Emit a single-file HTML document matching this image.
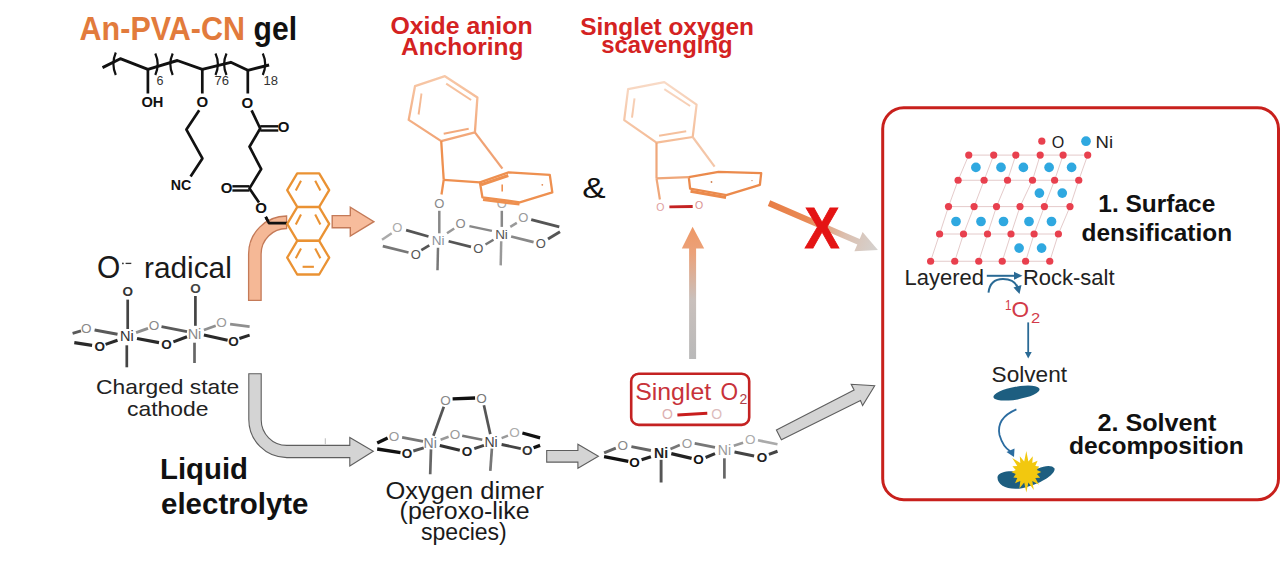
<!DOCTYPE html><html><head><meta charset="utf-8"><style>html,body{margin:0;padding:0;background:#fff;overflow:hidden;}svg{display:block;}text{font-family:"Liberation Sans", sans-serif;}</style></head><body>
<svg width="1280" height="561" viewBox="0 0 1280 561">
<defs><linearGradient id="gUp" x1="0" y1="1" x2="0" y2="0"><stop offset="0" stop-color="#b9b9b9"/><stop offset="0.45" stop-color="#c9c0bc"/><stop offset="0.8" stop-color="#eba27a"/><stop offset="1" stop-color="#ee9866"/></linearGradient><linearGradient id="gDiag" x1="768" y1="203" x2="878" y2="250" gradientUnits="userSpaceOnUse"><stop offset="0" stop-color="#e87d45"/><stop offset="0.35" stop-color="#e98a55"/><stop offset="0.7" stop-color="#dcc0b0"/><stop offset="1" stop-color="#d4d2d0"/></linearGradient><linearGradient id="gR1" x1="0" y1="76" x2="0" y2="145" gradientUnits="userSpaceOnUse"><stop offset="0" stop-color="#F7C8A8"/><stop offset="1" stop-color="#F1A272"/></linearGradient><linearGradient id="gR2" x1="0" y1="82" x2="0" y2="145" gradientUnits="userSpaceOnUse"><stop offset="0" stop-color="#F8DAC6"/><stop offset="1" stop-color="#F4BA94"/></linearGradient></defs>
<rect width="1280" height="561" fill="#fff"/>
<text x="79.6" y="40" font-size="32.5" font-weight="700" fill="#E27B3C" text-anchor="start" textLength="165.5" lengthAdjust="spacingAndGlyphs">An-PVA-CN</text>
<text x="253.6" y="40.2" font-size="32.5" font-weight="700" fill="#111" text-anchor="start" textLength="43.5" lengthAdjust="spacingAndGlyphs">gel</text>
<text x="390.5" y="33.8" font-size="24.5" font-weight="700" fill="#D42222" text-anchor="start" textLength="142.1" lengthAdjust="spacingAndGlyphs">Oxide anion</text>
<text x="401.1" y="54.9" font-size="24.5" font-weight="700" fill="#D42222" text-anchor="start" textLength="122.3" lengthAdjust="spacingAndGlyphs">Anchoring</text>
<text x="580.2" y="34.7" font-size="24.5" font-weight="700" fill="#D42222" text-anchor="start" textLength="173.8" lengthAdjust="spacingAndGlyphs">Singlet oxygen</text>
<text x="601.25" y="52.7" font-size="24.5" font-weight="700" fill="#D42222" text-anchor="start" textLength="131.3" lengthAdjust="spacingAndGlyphs">scavenging</text>
<polyline points="102.5,67.6 120.3,58.7 147.9,69.4 177.3,60.5 202.3,69.4 230.8,62.3 247.8,70.3 269.1,65" fill="none" stroke="#111" stroke-width="2.9" stroke-linejoin="round"/>
<path d="M115.8,52.5 Q111.0,63.75 115.8,75" fill="none" stroke="#111" stroke-width="2.2"/>
<path d="M155.3,53.5 Q160.10000000000002,64.25 155.3,75" fill="none" stroke="#111" stroke-width="2.2"/>
<path d="M172.7,53.5 Q167.89999999999998,64.25 172.7,75" fill="none" stroke="#111" stroke-width="2.2"/>
<path d="M215.5,53.5 Q220.3,64.25 215.5,75" fill="none" stroke="#111" stroke-width="2.2"/>
<path d="M226.5,53.5 Q221.7,64.25 226.5,75" fill="none" stroke="#111" stroke-width="2.2"/>
<path d="M262.8,53.5 Q267.6,64.25 262.8,75" fill="none" stroke="#111" stroke-width="2.2"/>
<text x="156.5" y="84.5" font-size="12.5" font-weight="400" fill="#333" text-anchor="start">6</text>
<text x="214.5" y="84.5" font-size="12.5" font-weight="400" fill="#333" text-anchor="start" textLength="14.5" lengthAdjust="spacingAndGlyphs">76</text>
<text x="263.5" y="84.5" font-size="12.5" font-weight="400" fill="#333" text-anchor="start" textLength="14.5" lengthAdjust="spacingAndGlyphs">18</text>
<line x1="147.9" y1="69.4" x2="147.9" y2="93.5" stroke="#111" stroke-width="2.7" stroke-linecap="butt"/>
<text x="152.4" y="106.8" font-size="15" font-weight="700" fill="#111" text-anchor="middle" textLength="22" lengthAdjust="spacingAndGlyphs">OH</text>
<line x1="202.3" y1="69.4" x2="202.3" y2="93.5" stroke="#111" stroke-width="2.7" stroke-linecap="butt"/>
<text x="202.4" y="106.8" font-size="15" font-weight="700" fill="#111" text-anchor="middle">O</text>
<line x1="247.8" y1="70.3" x2="247.8" y2="93.5" stroke="#111" stroke-width="2.7" stroke-linecap="butt"/>
<text x="247.3" y="107.5" font-size="15" font-weight="700" fill="#111" text-anchor="middle">O</text>
<polyline points="199.2,110.3 186.4,129.6 202.4,158.4 190.6,176.5" fill="none" stroke="#111" stroke-width="2.7" stroke-linejoin="round"/>
<text x="181" y="189.5" font-size="15" font-weight="700" fill="#111" text-anchor="middle" textLength="20.5" lengthAdjust="spacingAndGlyphs">NC</text>
<polyline points="251.6,110.3 260.2,128.5 249.5,146.7 261.2,169.1 249.5,188.4 259,202.5" fill="none" stroke="#111" stroke-width="2.7" stroke-linejoin="round"/>
<line x1="260.2" y1="126.3" x2="278.3" y2="126.3" stroke="#111" stroke-width="2.4" stroke-linecap="butt"/>
<line x1="260.2" y1="130.5" x2="278.3" y2="130.5" stroke="#111" stroke-width="2.4" stroke-linecap="butt"/>
<text x="283.7" y="132.3" font-size="15" font-weight="700" fill="#111" text-anchor="middle">O</text>
<line x1="232.4" y1="186.3" x2="249.5" y2="186.3" stroke="#111" stroke-width="2.4" stroke-linecap="butt"/>
<line x1="232.4" y1="190.5" x2="249.5" y2="190.5" stroke="#111" stroke-width="2.4" stroke-linecap="butt"/>
<text x="226.5" y="193.3" font-size="15" font-weight="700" fill="#111" text-anchor="middle">O</text>
<text x="261.2" y="212.5" font-size="15" font-weight="700" fill="#111" text-anchor="middle">O</text>
<polyline points="265.7,216.8 269,223.2 287,223.2" fill="none" stroke="#111" stroke-width="2.7" stroke-linejoin="round"/>
<path d="M248.6,300.3 L248.6,254 A38,38 0 0 1 286.6,216 L286.6,228.5 A25.5,25.5 0 0 0 261.1,254 L261.1,300.3 Z" fill="#F5B896" stroke="#C47A58" stroke-width="1.3"/>
<polyline points="265.7,216.8 269,223.2 287,223.2" fill="none" stroke="#111" stroke-width="2.7" stroke-linejoin="round"/>
<polygon points="332.2,215.6 350.3,215.6 350.3,207.2 373.9,221.7 350.3,236.1 350.3,227.7 332.2,227.7" fill="#F7BC9C" stroke="#C47A58" stroke-width="1.4" stroke-linejoin="miter"/>
<polygon points="297.2,173.29999999999998 319.2,173.29999999999998 329.2,190.1 319.2,206.9 297.2,206.9 287.2,190.1" fill="none" stroke="#EA9233" stroke-width="2.3" stroke-linejoin="round"/>
<line x1="295.8" y1="190.6" x2="301.0" y2="180.79999999999998" stroke="#EA9233" stroke-width="2.1" stroke-linecap="butt"/>
<line x1="315.2" y1="180.79999999999998" x2="320.4" y2="190.6" stroke="#EA9233" stroke-width="2.1" stroke-linecap="butt"/>
<polygon points="297.2,207.1 319.2,207.1 329.2,223.9 319.2,240.70000000000002 297.2,240.70000000000002 287.2,223.9" fill="none" stroke="#EA9233" stroke-width="2.3" stroke-linejoin="round"/>
<line x1="295.8" y1="224.4" x2="301.0" y2="214.6" stroke="#EA9233" stroke-width="2.1" stroke-linecap="butt"/>
<line x1="315.2" y1="214.6" x2="320.4" y2="224.4" stroke="#EA9233" stroke-width="2.1" stroke-linecap="butt"/>
<polygon points="297.2,240.89999999999998 319.2,240.89999999999998 329.2,257.7 319.2,274.5 297.2,274.5 287.2,257.7" fill="none" stroke="#EA9233" stroke-width="2.3" stroke-linejoin="round"/>
<line x1="295.8" y1="258.2" x2="301.0" y2="248.39999999999998" stroke="#EA9233" stroke-width="2.1" stroke-linecap="butt"/>
<line x1="315.2" y1="248.39999999999998" x2="320.4" y2="258.2" stroke="#EA9233" stroke-width="2.1" stroke-linecap="butt"/>
<line x1="302.6" y1="266.8" x2="313.9" y2="266.8" stroke="#EA9233" stroke-width="2.1" stroke-linecap="butt"/>
<text x="96.9" y="278.4" font-size="30.5" font-weight="400" fill="#1a1a1a" text-anchor="start" textLength="23.3" lengthAdjust="spacingAndGlyphs">O</text>
<circle cx="122.9" cy="263.4" r="0.9" fill="#333"/>
<line x1="125.6" y1="263.4" x2="131.3" y2="263.4" stroke="#333" stroke-width="1.3" stroke-linecap="butt"/>
<text x="144.0" y="278.2" font-size="29.5" font-weight="400" fill="#1a1a1a" text-anchor="start" textLength="87.8" lengthAdjust="spacingAndGlyphs">radical</text>
<text x="96.1" y="394.4" font-size="21" font-weight="400" fill="#222" text-anchor="start" textLength="143.2" lengthAdjust="spacingAndGlyphs">Charged state</text>
<text x="127.0" y="415.6" font-size="21" font-weight="400" fill="#222" text-anchor="start" textLength="81.5" lengthAdjust="spacingAndGlyphs">cathode</text>
<text x="160.0" y="478.5" font-size="30" font-weight="700" fill="#111" text-anchor="start" textLength="88" lengthAdjust="spacingAndGlyphs">Liquid</text>
<text x="161.0" y="513.8" font-size="30" font-weight="700" fill="#111" text-anchor="start" textLength="147.5" lengthAdjust="spacingAndGlyphs">electrolyte</text>
<line x1="72.6" y1="333.4" x2="81" y2="330.9" stroke="#5a5a5a" stroke-width="2.7" stroke-linecap="butt"/>
<line x1="74.3" y1="342.7" x2="92.1" y2="345.3" stroke="#2a2a2a" stroke-width="3.3" stroke-linecap="butt"/>
<line x1="94.6" y1="330" x2="117.5" y2="334.3" stroke="#5a5a5a" stroke-width="3.1" stroke-linecap="butt"/>
<line x1="105.6" y1="344.4" x2="117.5" y2="340.2" stroke="#2a2a2a" stroke-width="3.1" stroke-linecap="butt"/>
<line x1="136.1" y1="332.6" x2="148" y2="328.3" stroke="#8f8f8f" stroke-width="2.9" stroke-linecap="butt"/>
<line x1="137" y1="338.5" x2="159" y2="342.7" stroke="#2a2a2a" stroke-width="3.3" stroke-linecap="butt"/>
<line x1="161.5" y1="326.7" x2="187" y2="331.7" stroke="#5a5a5a" stroke-width="2.9" stroke-linecap="butt"/>
<line x1="173.4" y1="341.9" x2="187" y2="336.8" stroke="#2a2a2a" stroke-width="3.1" stroke-linecap="butt"/>
<line x1="203.9" y1="330" x2="215.7" y2="325.8" stroke="#8f8f8f" stroke-width="2.7" stroke-linecap="butt"/>
<line x1="203.9" y1="335.1" x2="227.6" y2="340.2" stroke="#2a2a2a" stroke-width="3.1" stroke-linecap="butt"/>
<line x1="230.1" y1="324.1" x2="249.6" y2="326.7" stroke="#8f8f8f" stroke-width="2.7" stroke-linecap="butt"/>
<line x1="239.4" y1="338.5" x2="249.6" y2="335.1" stroke="#2a2a2a" stroke-width="2.9" stroke-linecap="butt"/>
<line x1="127.7" y1="299.6" x2="127.7" y2="329" stroke="#444" stroke-width="2.7" stroke-linecap="butt"/>
<line x1="126.8" y1="345.3" x2="126.8" y2="367.3" stroke="#444" stroke-width="2.7" stroke-linecap="butt"/>
<line x1="195.4" y1="296" x2="195.4" y2="325.8" stroke="#444" stroke-width="2.7" stroke-linecap="butt"/>
<line x1="194.5" y1="342.7" x2="194.5" y2="363" stroke="#666" stroke-width="2.7" stroke-linecap="butt"/>
<text x="126.8" y="341.2" font-size="14.5" font-weight="400" fill="#333" text-anchor="middle">Ni</text>
<text x="194.5" y="338.6" font-size="14.5" font-weight="400" fill="#8a8a8a" text-anchor="middle">Ni</text>
<text x="127.7" y="295.9" font-size="13.5" font-weight="700" fill="#333" text-anchor="middle">O</text>
<text x="195.4" y="292.6" font-size="13.5" font-weight="700" fill="#444" text-anchor="middle">O</text>
<text x="86.2" y="333.2" font-size="13.5" font-weight="400" fill="#888" text-anchor="middle">O</text>
<text x="99.7" y="351.0" font-size="13.5" font-weight="700" fill="#222" text-anchor="middle">O</text>
<text x="153.9" y="329.9" font-size="13.5" font-weight="400" fill="#888" text-anchor="middle">O</text>
<text x="166.6" y="348.5" font-size="13.5" font-weight="700" fill="#222" text-anchor="middle">O</text>
<text x="221.6" y="327.3" font-size="13.5" font-weight="400" fill="#999" text-anchor="middle">O</text>
<text x="233.5" y="345.9" font-size="13.5" font-weight="700" fill="#222" text-anchor="middle">O</text>
<line x1="382" y1="239.7" x2="391.7" y2="233.3" stroke="#aaa" stroke-width="2.5" stroke-linecap="butt"/>
<line x1="382.8" y1="246.1" x2="408.5" y2="252.5" stroke="#777" stroke-width="2.7" stroke-linecap="butt"/>
<line x1="406.1" y1="230.1" x2="428.5" y2="236.5" stroke="#555" stroke-width="2.7" stroke-linecap="butt"/>
<line x1="421.3" y1="250.1" x2="429.3" y2="245.3" stroke="#555" stroke-width="2.7" stroke-linecap="butt"/>
<line x1="447" y1="233.3" x2="454.2" y2="228.5" stroke="#999" stroke-width="2.5" stroke-linecap="butt"/>
<line x1="448.6" y1="241.3" x2="471" y2="246.9" stroke="#555" stroke-width="2.7" stroke-linecap="butt"/>
<line x1="469.4" y1="226.1" x2="491.9" y2="230.9" stroke="#888" stroke-width="2.5" stroke-linecap="butt"/>
<line x1="485.5" y1="244.5" x2="493.5" y2="239.7" stroke="#777" stroke-width="2.5" stroke-linecap="butt"/>
<line x1="510.3" y1="226.9" x2="516.8" y2="222.9" stroke="#999" stroke-width="2.5" stroke-linecap="butt"/>
<line x1="511.1" y1="236.5" x2="533.6" y2="242.1" stroke="#888" stroke-width="2.7" stroke-linecap="butt"/>
<line x1="531.2" y1="219.7" x2="559.3" y2="226.9" stroke="#555" stroke-width="2.9" stroke-linecap="butt"/>
<line x1="548" y1="238.9" x2="560" y2="231.7" stroke="#555" stroke-width="2.9" stroke-linecap="butt"/>
<line x1="439.3" y1="210.8" x2="439.3" y2="233.3" stroke="#888" stroke-width="2.5" stroke-linecap="butt"/>
<line x1="438" y1="247.7" x2="437.5" y2="270.2" stroke="#777" stroke-width="2.5" stroke-linecap="butt"/>
<line x1="501.8" y1="210.8" x2="501.8" y2="226.9" stroke="#888" stroke-width="2.5" stroke-linecap="butt"/>
<line x1="501.2" y1="241.3" x2="500.7" y2="265.4" stroke="#999" stroke-width="2.5" stroke-linecap="butt"/>
<text x="438.2" y="244.6" font-size="13.5" font-weight="400" fill="#8a929c" text-anchor="middle">Ni</text>
<text x="501.5" y="238.5" font-size="13.5" font-weight="400" fill="#555" text-anchor="middle">Ni</text>
<text x="439.3" y="207.5" font-size="13" font-weight="400" fill="#888" text-anchor="middle">O</text>
<text x="501.8" y="208.3" font-size="13" font-weight="400" fill="#aaa" text-anchor="middle">O</text>
<text x="397.3" y="232.4" font-size="13" font-weight="400" fill="#aaa" text-anchor="middle">O</text>
<text x="415.7" y="258.9" font-size="13" font-weight="400" fill="#555" text-anchor="middle">O</text>
<text x="460.6" y="228.4" font-size="13" font-weight="400" fill="#888" text-anchor="middle">O</text>
<text x="478.3" y="253.2" font-size="13" font-weight="400" fill="#555" text-anchor="middle">O</text>
<text x="523.2" y="222.3" font-size="13" font-weight="400" fill="#999" text-anchor="middle">O</text>
<text x="540.8" y="248.4" font-size="13" font-weight="400" fill="#555" text-anchor="middle">O</text>
<line x1="452.6" y1="398.8" x2="475.1" y2="398" stroke="#111" stroke-width="3.3" stroke-linecap="butt"/>
<line x1="433.4" y1="435.7" x2="443.8" y2="406.8" stroke="#555" stroke-width="2.7" stroke-linecap="butt"/>
<line x1="490.3" y1="434.1" x2="483.9" y2="405.2" stroke="#555" stroke-width="2.7" stroke-linecap="butt"/>
<line x1="431" y1="449.4" x2="430.2" y2="474.2" stroke="#666" stroke-width="2.7" stroke-linecap="butt"/>
<line x1="491.9" y1="448.6" x2="490.3" y2="470.9" stroke="#777" stroke-width="2.7" stroke-linecap="butt"/>
<line x1="377.2" y1="443" x2="387.6" y2="438.1" stroke="#111" stroke-width="3.3" stroke-linecap="butt"/>
<line x1="377.2" y1="449" x2="400.5" y2="452.6" stroke="#111" stroke-width="3.3" stroke-linecap="butt"/>
<line x1="402.1" y1="437.3" x2="423" y2="441.3" stroke="#777" stroke-width="2.7" stroke-linecap="butt"/>
<line x1="413.3" y1="451" x2="423.7" y2="447.8" stroke="#555" stroke-width="2.9" stroke-linecap="butt"/>
<line x1="440.6" y1="439.7" x2="448.6" y2="436.8" stroke="#999" stroke-width="2.5" stroke-linecap="butt"/>
<line x1="439.8" y1="445.4" x2="459.8" y2="450.2" stroke="#333" stroke-width="3.1" stroke-linecap="butt"/>
<line x1="462.2" y1="435.7" x2="482.3" y2="439.7" stroke="#777" stroke-width="2.7" stroke-linecap="butt"/>
<line x1="474.3" y1="448.6" x2="483.9" y2="445.4" stroke="#444" stroke-width="2.9" stroke-linecap="butt"/>
<line x1="501.6" y1="438.1" x2="508" y2="435.7" stroke="#999" stroke-width="2.5" stroke-linecap="butt"/>
<line x1="501.6" y1="444.5" x2="520.8" y2="448.6" stroke="#444" stroke-width="2.9" stroke-linecap="butt"/>
<line x1="522.4" y1="433" x2="540.1" y2="437.8" stroke="#111" stroke-width="3.3" stroke-linecap="butt"/>
<line x1="533.6" y1="447.8" x2="540.1" y2="445.4" stroke="#111" stroke-width="3.3" stroke-linecap="butt"/>
<text x="430.2" y="447.9" font-size="14" font-weight="400" fill="#7a7f88" text-anchor="middle">Ni</text>
<text x="491.1" y="446.7" font-size="14" font-weight="400" fill="#444" text-anchor="middle">Ni</text>
<text x="445.4" y="404.5" font-size="13.5" font-weight="400" fill="#888" text-anchor="middle">O</text>
<text x="481.5" y="402.9" font-size="13.5" font-weight="400" fill="#777" text-anchor="middle">O</text>
<text x="394.1" y="440.6" font-size="13.5" font-weight="400" fill="#999" text-anchor="middle">O</text>
<text x="406.9" y="458.3" font-size="13.5" font-weight="700" fill="#222" text-anchor="middle">O</text>
<text x="455" y="439.0" font-size="13.5" font-weight="400" fill="#999" text-anchor="middle">O</text>
<text x="467.1" y="455.9" font-size="13.5" font-weight="700" fill="#222" text-anchor="middle">O</text>
<text x="514.4" y="436.9" font-size="13.5" font-weight="400" fill="#aaa" text-anchor="middle">O</text>
<text x="527.2" y="455.1" font-size="13.5" font-weight="700" fill="#333" text-anchor="middle">O</text>
<line x1="604.1" y1="452.8" x2="615.8" y2="448.1" stroke="#666" stroke-width="2.9" stroke-linecap="butt"/>
<line x1="604.1" y1="456.7" x2="628.3" y2="461.4" stroke="#111" stroke-width="3.3" stroke-linecap="butt"/>
<line x1="631.4" y1="446.6" x2="650.9" y2="450.5" stroke="#666" stroke-width="2.9" stroke-linecap="butt"/>
<line x1="641.6" y1="459.8" x2="650.9" y2="456.7" stroke="#222" stroke-width="3.3" stroke-linecap="butt"/>
<line x1="670.5" y1="448.9" x2="679.8" y2="445" stroke="#777" stroke-width="2.7" stroke-linecap="butt"/>
<line x1="671.3" y1="453.6" x2="691.6" y2="458.3" stroke="#222" stroke-width="3.3" stroke-linecap="butt"/>
<line x1="694.7" y1="443.4" x2="715" y2="447.3" stroke="#777" stroke-width="2.7" stroke-linecap="butt"/>
<line x1="705.6" y1="457.5" x2="715" y2="453.6" stroke="#333" stroke-width="3.1" stroke-linecap="butt"/>
<line x1="733.8" y1="445.8" x2="743.1" y2="442.7" stroke="#999" stroke-width="2.5" stroke-linecap="butt"/>
<line x1="734.5" y1="452" x2="754.1" y2="455.9" stroke="#444" stroke-width="3.1" stroke-linecap="butt"/>
<line x1="758" y1="440.3" x2="777.5" y2="444.2" stroke="#aaa" stroke-width="2.7" stroke-linecap="butt"/>
<line x1="768.9" y1="454.4" x2="777.5" y2="451.3" stroke="#444" stroke-width="3.1" stroke-linecap="butt"/>
<line x1="661.1" y1="459.8" x2="661.1" y2="482.5" stroke="#555" stroke-width="2.9" stroke-linecap="butt"/>
<line x1="724.4" y1="458.3" x2="724.4" y2="478.6" stroke="#666" stroke-width="2.7" stroke-linecap="butt"/>
<text x="661.1" y="457.8" font-size="14" font-weight="700" fill="#222" text-anchor="middle">Ni</text>
<text x="724.4" y="454.7" font-size="14" font-weight="400" fill="#999" text-anchor="middle">Ni</text>
<text x="622.8" y="449.9" font-size="13.5" font-weight="400" fill="#888" text-anchor="middle">O</text>
<text x="634.5" y="467.1" font-size="13.5" font-weight="700" fill="#111" text-anchor="middle">O</text>
<text x="686.9" y="447.6" font-size="13.5" font-weight="400" fill="#999" text-anchor="middle">O</text>
<text x="698.6" y="464.0" font-size="13.5" font-weight="700" fill="#111" text-anchor="middle">O</text>
<text x="750.2" y="444.4" font-size="13.5" font-weight="400" fill="#aaa" text-anchor="middle">O</text>
<text x="761.9" y="461.6" font-size="13.5" font-weight="700" fill="#222" text-anchor="middle">O</text>
<text x="385.5" y="498.8" font-size="23" font-weight="400" fill="#1a1a1a" text-anchor="start" textLength="158.5" lengthAdjust="spacingAndGlyphs">Oxygen dimer</text>
<text x="399.6" y="519.1" font-size="23" font-weight="400" fill="#1a1a1a" text-anchor="start" textLength="130" lengthAdjust="spacingAndGlyphs">(peroxo-like</text>
<text x="421.0" y="539.8" font-size="23" font-weight="400" fill="#1a1a1a" text-anchor="start" textLength="85.8" lengthAdjust="spacingAndGlyphs">species)</text>
<path d="M248.8,373.8 L248.8,419.6 A38,38 0 0 0 286.8,457.6 L349.8,457.6 L349.8,466 L373.3,451.3 L349.8,437.5 L349.8,445.4 L286.8,445.4 A25.6,25.6 0 0 1 261.2,419.6 L261.2,373.8 Z" fill="#D4D4D4" stroke="#5e5e5e" stroke-width="1.1" stroke-linejoin="miter"/>
<line x1="325.3" y1="438.3" x2="325.3" y2="444.2" stroke="#aaa" stroke-width="0.8" stroke-linecap="butt"/>
<polygon points="546.7,450.5 577.9,450.5 577.9,444.3 598.4,456.3 577.9,468.3 577.9,462.1 546.7,462.1" fill="#D4D4D4" stroke="#5e5e5e" stroke-width="1.1"/>
<polygon points="776.4,429.9 854.1,390 851.2,384.3 874.7,385.7 862.6,405.6 860.5,400.6 781.4,439.8" fill="#D4D4D4" stroke="#5e5e5e" stroke-width="1.1"/>
<polygon points="689.1,359.1 689.1,248.5 681.8,248.5 692.6,226.7 704.2,248.5 696.1,248.5 696.1,359.1" fill="url(#gUp)"/>
<polygon points="767.8,205.9 857.3,244.5 854.4,251.3 877.9,249.9 862.6,232.1 859.7,238.9 770.2,200.3" fill="url(#gDiag)"/>
<text x="804.5" y="247.6" font-size="56.5" font-weight="700" fill="#E41414" text-anchor="start" textLength="35" lengthAdjust="spacingAndGlyphs" stroke="#E41414" stroke-width="0.8">X</text>
<text x="582.2" y="198.3" font-size="29.5" font-weight="400" fill="#111" text-anchor="start" textLength="23.4" lengthAdjust="spacingAndGlyphs">&amp;</text>
<polygon points="444.9,76.2 477.4,97.5 474.9,132.4 441.2,141.1 408.7,119.9 415,86.2" fill="none" stroke="url(#gR1)" stroke-width="2.3" stroke-linejoin="round"/>
<line x1="446.2" y1="83.7" x2="471.1" y2="100" stroke="url(#gR1)" stroke-width="2" stroke-linecap="butt"/>
<line x1="421.5" y1="93.5" x2="418.6" y2="114.5" stroke="url(#gR1)" stroke-width="1.9" stroke-linecap="butt"/>
<line x1="443.7" y1="133.7" x2="468.7" y2="128.7" stroke="url(#gR1)" stroke-width="2" stroke-linecap="butt"/>
<line x1="441.2" y1="141.1" x2="443.7" y2="179.8" stroke="#EE9050" stroke-width="2.3" stroke-linecap="butt"/>
<line x1="474.9" y1="132.4" x2="502.4" y2="168.6" stroke="#F0A274" stroke-width="2.3" stroke-linecap="butt"/>
<polygon points="479.9,182.3 508.6,172.3 549.8,174.8 552.3,192.3 519.8,202.3 482.4,197.3" fill="none" stroke="#EE9050" stroke-width="2.3" stroke-linejoin="round"/>
<line x1="481" y1="184.8" x2="508.3" y2="175.6" stroke="#EE9050" stroke-width="3.2" stroke-linecap="butt"/>
<line x1="483" y1="199.6" x2="519.5" y2="204.3" stroke="#EE9050" stroke-width="2.6" stroke-linecap="butt"/>
<line x1="443.7" y1="179.8" x2="479.9" y2="182.3" stroke="#EE9050" stroke-width="2.3" stroke-linecap="butt"/>
<line x1="443.7" y1="179.8" x2="441.5" y2="194.5" stroke="#EE9050" stroke-width="2.3" stroke-linecap="butt"/>
<line x1="502.2" y1="184.5" x2="502.2" y2="191.5" stroke="#EE9050" stroke-width="1.6" stroke-linecap="butt"/>
<circle cx="542.3" cy="184.8" r="0.9" fill="#E08850"/>
<polygon points="664.3,82.2 696.6,104.7 692.7,137 656.5,142.7 624.2,120.2 628.1,89.2" fill="none" stroke="url(#gR2)" stroke-width="2.2" stroke-linejoin="round"/>
<line x1="664.3" y1="89.2" x2="690.1" y2="106" stroke="url(#gR2)" stroke-width="2" stroke-linecap="butt"/>
<line x1="634.5" y1="98.3" x2="632" y2="117.6" stroke="url(#gR2)" stroke-width="2" stroke-linecap="butt"/>
<line x1="659.1" y1="135.7" x2="686.2" y2="131.3" stroke="url(#gR2)" stroke-width="2" stroke-linecap="butt"/>
<line x1="656.5" y1="142.7" x2="656.5" y2="178.4" stroke="#EFA77A" stroke-width="2.2" stroke-linecap="butt"/>
<line x1="692.7" y1="137" x2="714.6" y2="166.7" stroke="#F4C6A8" stroke-width="2.2" stroke-linecap="butt"/>
<polygon points="688.8,177.1 718.5,171.9 761.2,173.2 759.9,184.8 726.3,195.2 690.1,188.7" fill="none" stroke="#EB8A4C" stroke-width="2.3" stroke-linejoin="round"/>
<line x1="690.5" y1="191.3" x2="726" y2="197.6" stroke="#EB8A4C" stroke-width="3" stroke-linecap="butt"/>
<line x1="656.5" y1="178.4" x2="688.8" y2="177.1" stroke="#EFA77A" stroke-width="2.2" stroke-linecap="butt"/>
<line x1="656.5" y1="178.4" x2="659.9" y2="199.5" stroke="#EFA77A" stroke-width="2.2" stroke-linecap="butt"/>
<circle cx="711.5" cy="182" r="0.9" fill="#D08050"/><circle cx="752" cy="180.6" r="0.7" fill="#D08050"/>
<text x="660.4" y="210.6" font-size="10.5" font-weight="400" fill="#E0A0A0" text-anchor="middle">O</text>
<text x="699.1" y="209.3" font-size="10.5" font-weight="400" fill="#D89090" text-anchor="middle">O</text>
<line x1="669.4" y1="206.9" x2="692.7" y2="206.5" stroke="#C42222" stroke-width="2.8" stroke-linecap="butt"/>
<rect x="631.2" y="373.7" width="118" height="51.2" rx="7.5" fill="#fff" stroke="#C42222" stroke-width="2.6"/>
<text x="635.2" y="400" font-size="24" font-weight="400" fill="#C8323A" text-anchor="start" textLength="76" lengthAdjust="spacingAndGlyphs">Singlet</text>
<text x="720.6" y="400" font-size="24" font-weight="400" fill="#C8323A" text-anchor="start" textLength="17.6" lengthAdjust="spacingAndGlyphs">O</text>
<text x="739.6" y="404.3" font-size="15" font-weight="400" fill="#B04048" text-anchor="start" textLength="7.8" lengthAdjust="spacingAndGlyphs">2</text>
<text x="667.4" y="419.3" font-size="14" font-weight="400" fill="#DDB0B0" text-anchor="middle">O</text>
<text x="716.7" y="418.7" font-size="14" font-weight="400" fill="#DDBCBC" text-anchor="middle">O</text>
<line x1="677.4" y1="415" x2="707.3" y2="413.2" stroke="#C81E1E" stroke-width="3" stroke-linecap="butt"/>
<rect x="882.7" y="107.8" width="395.8" height="391.9" rx="21" fill="none" stroke="#C8201C" stroke-width="3"/>
<line x1="968.75" y1="155.1" x2="1087.7" y2="155.1" stroke="#DDBDBD" stroke-width="0.8" stroke-linecap="butt"/>
<line x1="958.1" y1="180.25" x2="1078.75" y2="180.25" stroke="#DDBDBD" stroke-width="0.8" stroke-linecap="butt"/>
<line x1="948.5" y1="206.6" x2="1070" y2="206.6" stroke="#DDBDBD" stroke-width="0.8" stroke-linecap="butt"/>
<line x1="939.6" y1="234.0" x2="1058.4" y2="234.0" stroke="#DDBDBD" stroke-width="0.8" stroke-linecap="butt"/>
<line x1="930.6" y1="261.25" x2="1049.75" y2="261.25" stroke="#DDBDBD" stroke-width="0.8" stroke-linecap="butt"/>
<polyline points="968.75,155.1 958.1,180.25 948.5,206.6 939.6,234.0 930.6,261.25" fill="none" stroke="#DDBDBD" stroke-width="0.8" stroke-linejoin="round"/>
<polyline points="993.7,155.1 984.1,180.25 974.1,206.6 963.5,234.0 954.75,261.25" fill="none" stroke="#DDBDBD" stroke-width="0.8" stroke-linejoin="round"/>
<polyline points="1015.8,155.1 1007.5,180.25 996.5,206.6 987.5,234.0 978.75,261.25" fill="none" stroke="#DDBDBD" stroke-width="0.8" stroke-linejoin="round"/>
<polyline points="1040.2,155.1 1032.5,180.25 1020,206.6 1011,234.0 1002.25,261.25" fill="none" stroke="#DDBDBD" stroke-width="0.8" stroke-linejoin="round"/>
<polyline points="1063.1,155.1 1054.6,180.25 1044.4,206.6 1034.1,234.0 1025.6,261.25" fill="none" stroke="#DDBDBD" stroke-width="0.8" stroke-linejoin="round"/>
<polyline points="1087.7,155.1 1078.75,180.25 1070,206.6 1058.4,234.0 1049.75,261.25" fill="none" stroke="#DDBDBD" stroke-width="0.8" stroke-linejoin="round"/>
<circle cx="968.75" cy="155.1" r="3.6" fill="#E8404E"/>
<circle cx="993.7" cy="155.1" r="3.6" fill="#E8404E"/>
<circle cx="1015.8" cy="155.1" r="3.6" fill="#E8404E"/>
<circle cx="1040.2" cy="155.1" r="3.6" fill="#E8404E"/>
<circle cx="1063.1" cy="155.1" r="3.6" fill="#E8404E"/>
<circle cx="1087.7" cy="155.1" r="3.6" fill="#E8404E"/>
<circle cx="958.1" cy="180.25" r="3.6" fill="#E8404E"/>
<circle cx="984.1" cy="180.25" r="3.6" fill="#E8404E"/>
<circle cx="1007.5" cy="180.25" r="3.6" fill="#E8404E"/>
<circle cx="1032.5" cy="180.25" r="3.6" fill="#E8404E"/>
<circle cx="1054.6" cy="180.25" r="3.6" fill="#E8404E"/>
<circle cx="1078.75" cy="180.25" r="3.6" fill="#E8404E"/>
<circle cx="948.5" cy="206.6" r="3.6" fill="#E8404E"/>
<circle cx="974.1" cy="206.6" r="3.6" fill="#E8404E"/>
<circle cx="996.5" cy="206.6" r="3.6" fill="#E8404E"/>
<circle cx="1020" cy="206.6" r="3.6" fill="#E8404E"/>
<circle cx="1044.4" cy="206.6" r="3.6" fill="#E8404E"/>
<circle cx="1070" cy="206.6" r="3.6" fill="#E8404E"/>
<circle cx="939.6" cy="234.0" r="3.6" fill="#E8404E"/>
<circle cx="963.5" cy="234.0" r="3.6" fill="#E8404E"/>
<circle cx="987.5" cy="234.0" r="3.6" fill="#E8404E"/>
<circle cx="1011" cy="234.0" r="3.6" fill="#E8404E"/>
<circle cx="1034.1" cy="234.0" r="3.6" fill="#E8404E"/>
<circle cx="1058.4" cy="234.0" r="3.6" fill="#E8404E"/>
<circle cx="930.6" cy="261.25" r="3.6" fill="#E8404E"/>
<circle cx="954.75" cy="261.25" r="3.6" fill="#E8404E"/>
<circle cx="978.75" cy="261.25" r="3.6" fill="#E8404E"/>
<circle cx="1002.25" cy="261.25" r="3.6" fill="#E8404E"/>
<circle cx="1025.6" cy="261.25" r="3.6" fill="#E8404E"/>
<circle cx="1049.75" cy="261.25" r="3.6" fill="#E8404E"/>
<circle cx="975.9" cy="167.4" r="4.85" fill="#2FA8E0"/>
<circle cx="1001" cy="167.4" r="4.85" fill="#2FA8E0"/>
<circle cx="1023.4" cy="167.4" r="4.85" fill="#2FA8E0"/>
<circle cx="1049.1" cy="167.4" r="4.85" fill="#2FA8E0"/>
<circle cx="1071.6" cy="167.4" r="4.85" fill="#2FA8E0"/>
<circle cx="1039.4" cy="193.1" r="4.85" fill="#2FA8E0"/>
<circle cx="1062.25" cy="193.1" r="4.85" fill="#2FA8E0"/>
<circle cx="956" cy="221.5" r="4.85" fill="#2FA8E0"/>
<circle cx="981" cy="221.5" r="4.85" fill="#2FA8E0"/>
<circle cx="1003.5" cy="221.5" r="4.85" fill="#2FA8E0"/>
<circle cx="1029" cy="221.5" r="4.85" fill="#2FA8E0"/>
<circle cx="1051.5" cy="221.5" r="4.85" fill="#2FA8E0"/>
<circle cx="1019.1" cy="248.1" r="4.85" fill="#2FA8E0"/>
<circle cx="1041.6" cy="248.1" r="4.85" fill="#2FA8E0"/>
<circle cx="1041.8" cy="141.2" r="3.6" fill="#E8404E"/>
<text x="1051.8" y="147.5" font-size="16" font-weight="400" fill="#222" text-anchor="start" textLength="12.5" lengthAdjust="spacingAndGlyphs">O</text>
<circle cx="1086" cy="141.2" r="4.85" fill="#2FA8E0"/>
<text x="1095.6" y="147.5" font-size="16" font-weight="400" fill="#222" text-anchor="start" textLength="17.5" lengthAdjust="spacingAndGlyphs">Ni</text>
<text x="1098.3" y="212" font-size="24" font-weight="700" fill="#111" text-anchor="start" textLength="117" lengthAdjust="spacingAndGlyphs">1. Surface</text>
<text x="1081.5" y="241.25" font-size="24" font-weight="700" fill="#111" text-anchor="start" textLength="150.6" lengthAdjust="spacingAndGlyphs">densification</text>
<text x="904.6" y="285.4" font-size="22" font-weight="400" fill="#222" text-anchor="start" textLength="79.4" lengthAdjust="spacingAndGlyphs">Layered</text>
<text x="1023.0" y="285.4" font-size="22" font-weight="400" fill="#222" text-anchor="start" textLength="91.5" lengthAdjust="spacingAndGlyphs">Rock-salt</text>
<line x1="986.8" y1="275.8" x2="1016" y2="275.8" stroke="#2A6A95" stroke-width="2" stroke-linecap="butt"/>
<polygon points="1014,271.8 1022.5,275.8 1014,279.8" fill="#2A6A95"/>
<path d="M988.5,292.7 Q990,279 1003,279 Q1014,279 1017.5,287" fill="none" stroke="#2A6A95" stroke-width="2"/>
<polygon points="1013.5,287.5 1021.5,285 1019.5,294" fill="#2A6A95"/>
<text x="1005.0" y="310.2" font-size="15" font-weight="400" fill="#D23A48" text-anchor="start" textLength="6.5" lengthAdjust="spacingAndGlyphs">1</text>
<text x="1011.6" y="316.9" font-size="21.5" font-weight="400" fill="#D23A48" text-anchor="start" textLength="17.6" lengthAdjust="spacingAndGlyphs">O</text>
<text x="1031.0" y="322.6" font-size="15" font-weight="400" fill="#D23A48" text-anchor="start" textLength="9.2" lengthAdjust="spacingAndGlyphs">2</text>
<line x1="1028.2" y1="322.4" x2="1028.2" y2="353" stroke="#2A6A95" stroke-width="1.8" stroke-linecap="butt"/>
<polygon points="1024.9,352 1031.7,352 1028.2,358.6" fill="#2A6A95"/>
<text x="991.6" y="381.8" font-size="22" font-weight="400" fill="#222" text-anchor="start" textLength="75.5" lengthAdjust="spacingAndGlyphs">Solvent</text>
<ellipse cx="1016.5" cy="393.1" rx="23.4" ry="6.4" transform="rotate(-10 1016.5 393.1)" fill="#1D5E80"/>
<path d="M1016.4,409.3 Q996,418 999.5,435 Q1003,447 1010.5,451.5" fill="none" stroke="#2B6CA0" stroke-width="1.8"/>
<polygon points="1006.5,452 1014.5,448.5 1014,457" fill="#2B6CA0"/>
<path d="M997.5,477 C998,472 1008,470.5 1016,471.5 L1038,468.5 C1045,465.5 1052,464.8 1054.6,468.5 C1055.5,474.5 1040,484.5 1022,488.2 C1008,490.5 997,485.5 997.5,477 Z" fill="#1D5E80"/>
<polygon points="1026.3,451.0 1028.4,461.4 1032.8,456.3 1032.3,463.0 1037.6,460.7 1035.3,466.0 1039.2,466.6 1036.9,469.9 1041.3,472.0 1036.9,474.1 1040.2,477.7 1035.3,478.0 1039.0,484.7 1032.3,481.0 1033.8,490.0 1028.4,482.6 1026.3,492.5 1024.2,482.6 1019.4,488.6 1020.3,481.0 1015.0,483.3 1017.3,478.0 1013.4,477.4 1015.7,474.1 1011.3,472.0 1015.7,469.9 1012.4,466.3 1017.3,466.0 1012.2,457.9 1020.3,463.0 1019.8,456.3 1024.2,461.4" fill="#F2C80F"/>
<text x="1097.4" y="430.9" font-size="24" font-weight="700" fill="#111" text-anchor="start" textLength="119" lengthAdjust="spacingAndGlyphs">2. Solvent</text>
<text x="1069.1" y="453.7" font-size="24" font-weight="700" fill="#111" text-anchor="start" textLength="174.6" lengthAdjust="spacingAndGlyphs">decomposition</text>
</svg></body></html>
